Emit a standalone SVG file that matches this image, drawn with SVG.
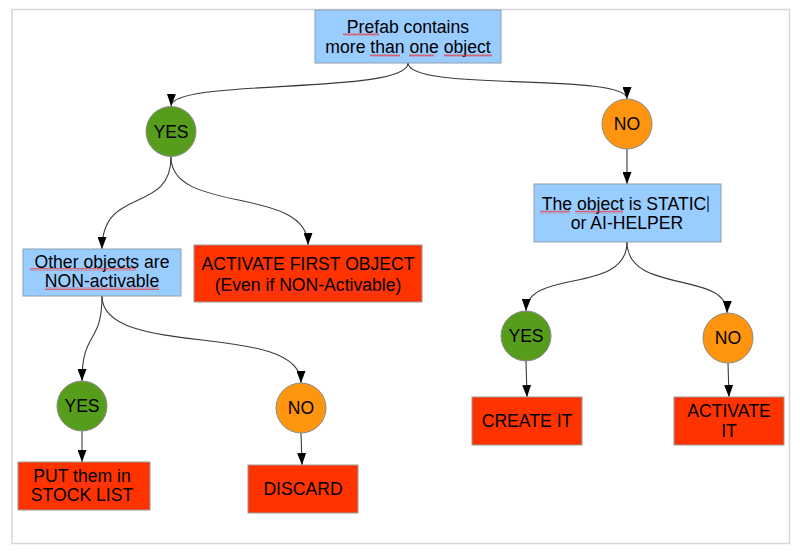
<svg xmlns="http://www.w3.org/2000/svg" width="800" height="556" viewBox="0 0 800 556">
<style>
  text { font-family: "Liberation Sans", Arial, sans-serif; font-size: 17.6px; fill: #000; text-anchor: middle; }
  .q { fill: #99ccff; stroke: #8c9fb0; stroke-width: 1; }
  .a { fill: #ff3300; stroke: #9a9a9a; stroke-width: 1; }
  .y { fill: #579d1c; stroke: #8a8a8a; stroke-width: 1; }
  .n { fill: #ff950e; stroke: #8a8a8a; stroke-width: 1; }
  .c { fill: none; stroke: #3a3a3a; stroke-width: 1.1; marker-end: url(#ah); }
  .sq { fill: url(#zig); }
</style>
<defs>
  <marker id="ah" viewBox="0 0 12 9" refX="12" refY="4.5" markerWidth="12" markerHeight="9" markerUnits="userSpaceOnUse" orient="auto">
    <path d="M0,0 L12,4.5 L0,9 Z" fill="#000"/>
  </marker>
  <pattern id="zig" width="4" height="3" patternUnits="userSpaceOnUse">
    <path d="M0,2.5 L1,0.5 L2,2.5 L3,0.5 L4,2.5" fill="none" stroke="#e83a3a" stroke-width="0.7"/>
  </pattern>
</defs>
<rect width="800" height="556" fill="#fff"/>
<rect x="12" y="9.5" width="777.5" height="534" fill="none" stroke="#d6d6d6" stroke-width="1.5"/>

<g id="connectors">
  <path class="c" d="M408,63 C408,95 172,78 171,106"/>
  <path class="c" d="M408,63 C408,92 627,72 627,99"/>
  <path class="c" d="M627,149 L627,184"/>
  <path class="c" d="M171,157 C171,215 102,185 102,249"/>
  <path class="c" d="M171,157 C171,215 308,185 308,245"/>
  <path class="c" d="M102,296 C102,345 82,330 82,381"/>
  <path class="c" d="M102,296 C102,360 301,320 301,383"/>
  <path class="c" d="M82,431 L82,462"/>
  <path class="c" d="M301,433 L302,465"/>
  <path class="c" d="M627,242 C627,295 527,268 526,311"/>
  <path class="c" d="M627,242 C627,295 728,270 727,313"/>
  <path class="c" d="M526,361 L527,397"/>
  <path class="c" d="M728,363 L729,397"/>
</g>

<g id="n-prefab">
  <rect class="q" x="315" y="10" width="186" height="53"/>
  <text x="408" y="32.5">Prefab contains</text>
  <text x="408" y="53">more than one object</text>
  <rect class="sq" x="343" y="33" width="36" height="3"/>
  <rect class="sq" x="370" y="54" width="30" height="3"/>
  <rect class="sq" x="409" y="54" width="25" height="3"/>
  <rect class="sq" x="444" y="54" width="48" height="3"/>
</g>

<g id="n-yes1">
  <circle class="y" cx="171" cy="131.5" r="25"/>
  <text x="171" y="137.5">YES</text>
</g>

<g id="n-no1">
  <circle class="n" cx="627" cy="124" r="25"/>
  <text x="627" y="130">NO</text>
</g>

<g id="n-static">
  <rect class="q" x="534" y="184" width="187" height="58"/>
  <text x="624" y="209.5">The object is STATIC</text>
  <text x="627" y="229">or AI-HELPER</text>
  <rect class="sq" x="540" y="210.5" width="30" height="3"/>
  <rect class="sq" x="575" y="210.5" width="48" height="3"/>
  <line x1="708" y1="196" x2="708" y2="212" stroke="#000" stroke-width="1"/>
</g>

<g id="n-other">
  <rect class="q" x="23" y="249" width="158" height="47"/>
  <text x="102" y="267.5">Other objects are</text>
  <text x="102" y="286.5">NON-activable</text>
  <rect class="sq" x="30" y="268" width="106" height="3"/>
  <rect class="sq" x="45" y="287" width="114" height="3"/>
</g>

<g id="n-activate-first">
  <rect class="a" x="194" y="245" width="228" height="57"/>
  <text x="308" y="270">ACTIVATE FIRST OBJECT</text>
  <text x="308" y="290.5">(Even if NON-Activable)</text>
  <rect class="sq" x="222" y="290" width="163" height="3"/>
</g>

<g id="n-yes2">
  <circle class="y" cx="82" cy="406" r="25"/>
  <text x="82" y="412">YES</text>
</g>

<g id="n-no2">
  <circle class="n" cx="301" cy="408" r="25"/>
  <text x="301" y="414">NO</text>
</g>

<g id="n-stock">
  <rect class="a" x="18" y="462" width="132" height="48"/>
  <text x="82" y="482">PUT them in</text>
  <text x="82" y="501">STOCK LIST</text>
  <rect class="sq" x="72" y="482.5" width="40" height="3"/>
</g>

<g id="n-discard">
  <rect class="a" x="248" y="465" width="110" height="48"/>
  <text x="303" y="494.5">DISCARD</text>
</g>

<g id="n-yes3">
  <circle class="y" cx="526" cy="336" r="25"/>
  <text x="526" y="341.5">YES</text>
</g>

<g id="n-no3">
  <circle class="n" cx="728" cy="338" r="25"/>
  <text x="728" y="344">NO</text>
</g>

<g id="n-create">
  <rect class="a" x="472" y="397" width="110" height="48"/>
  <text x="527" y="427">CREATE IT</text>
</g>

<g id="n-activate-it">
  <rect class="a" x="674" y="397" width="110" height="48"/>
  <text x="729" y="417">ACTIVATE</text>
  <text x="729" y="437">IT</text>
</g>
</svg>
